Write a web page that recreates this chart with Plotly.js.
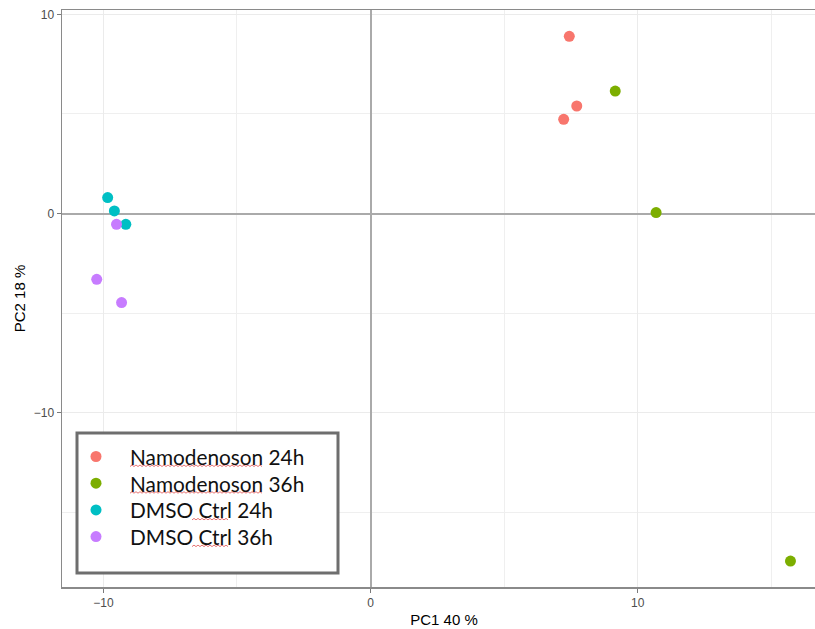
<!DOCTYPE html>
<html>
<head>
<meta charset="utf-8">
<script src="https://cdn.plot.ly/plotly-3.0.1.min.js"></script>
<style>
html,body{margin:0;padding:0;overflow:hidden;background:#fff;}
#chart{width:826px;height:629px;}
</style>
</head>
<body>
<div id="chart"></div>
<script>
// Data
const groups = ["Namodenoson 24h", "Namodenoson 36h", "DMSO Ctrl 24h", "DMSO Ctrl 36h"];
const colors = ["#F8766D", "#7CAE00", "#00BFC4", "#C77CFF"];
const pc1_nam24 = [7.44, 7.72, 7.23];
const pc2_nam24 = [8.90, 5.40, 4.73];
const pc1_nam36 = [9.16, 10.69, 15.72];
const pc2_nam36 = [6.15, 0.05, -17.45];
const pc1_dmso24 = [-9.84, -9.59, -9.16];
const pc2_dmso24 = [0.80, 0.13, -0.54];
const pc1_dmso36 = [-9.51, -10.25, -9.32];
const pc2_dmso36 = [-0.54, -3.30, -4.47];
const xTicks = [-10, 0, 10];
const yTicks = [-10, 0, 10];
const xTitle = "PC1 40 %";
const yTitle = "PC2 18 %";

const xs = [pc1_nam24, pc1_nam36, pc1_dmso24, pc1_dmso36];
const ys = [pc2_nam24, pc2_nam36, pc2_dmso24, pc2_dmso36];

const traces = groups.map((g, i) => ({
  type: "scatter",
  mode: "markers",
  name: g,
  x: xs[i],
  y: ys[i],
  marker: {color: colors[i], size: 11, line: {width: 0}},
  cliponaxis: false,
  showlegend: false
}));

// ---- legend box (drawn like the pasted legend in the reference) ----
const W = 826, H = 629, ML = 62, MR = 0, MT = 10, MB = 42;
const PW = W - ML - MR, PH = H - MT - MB;
const px2x = p => (p - ML) / PW;
const py2y = p => (H - MB - p) / PH;

const shapes = [];
const annotations = [];
shapes.push({
  type: "rect", xref: "paper", yref: "paper",
  x0: px2x(77), x1: px2x(338), y0: py2y(573), y1: py2y(433),
  fillcolor: "#ffffff", line: {color: "#6e6e6e", width: 3}, layer: "above"
});
const rowY0 = 456.5, rowStep = 26.7;
// spell-check squiggle spans [start, end] in px, per row
const squiggles = [[130, 262], [130, 262], [192, 228], [192, 228]];
function zigzag(x0, x1) {
  let d = "M0,0";
  let k = 0;
  for (let x = 2; x <= x1 - x0; x += 2) { k++; d += " L" + x + "," + (k % 2 ? 1.5 : 0); }
  return d;
}
groups.forEach((g, i) => {
  const cy = rowY0 + i * rowStep;
  shapes.push({
    type: "circle", xref: "paper", yref: "paper",
    xsizemode: "pixel", ysizemode: "pixel",
    xanchor: px2x(96), yanchor: py2y(cy),
    x0: -5.5, x1: 5.5, y0: -5.5, y1: 5.5,
    fillcolor: colors[i], line: {width: 0}, layer: "above"
  });
  annotations.push({
    xref: "paper", yref: "paper", x: px2x(128), y: py2y(cy),
    xanchor: "left", yanchor: "middle", showarrow: false,
    text: g, font: {family: "Lato, Open Sans, sans-serif", size: 20.8, color: "#111"}
  });
  const s = squiggles[i];
  shapes.push({
    type: "path", xref: "paper", yref: "paper",
    xsizemode: "pixel", ysizemode: "pixel",
    xanchor: px2x(s[0]), yanchor: py2y(cy + 10),
    path: zigzag(s[0], s[1]),
    line: {color: "#e05050", width: 0.8}, layer: "above"
  });
});

const layout = {
  width: W,
  height: H,
  margin: {l: ML, r: MR, t: MT, b: MB},
  paper_bgcolor: "#ffffff",
  plot_bgcolor: "#ffffff",
  font: {family: "Liberation Sans, Arial, sans-serif", color: "#000"},
  showlegend: false,
  shapes: shapes,
  annotations: annotations,
  xaxis: {
    range: [-11.55, 17.05],
    tickvals: xTicks,
    ticktext: xTicks.map(v => v < 0 ? "\u2212" + Math.abs(v) : String(v)),
    ticks: "outside", ticklen: 4, tickwidth: 1, tickcolor: "#7a7a7a",
    tickfont: {family: "Liberation Sans, Arial, sans-serif", size: 12, color: "#4d4d4d"},
    showgrid: true, gridcolor: "#ebebeb", gridwidth: 1,
    minor: {dtick: 5, tick0: 5, showgrid: true, gridcolor: "#efefef", gridwidth: 1, ticks: ""},
    zeroline: true, zerolinecolor: "#aaaaaa", zerolinewidth: 2,
    showline: true, linecolor: "#8a8a8a", linewidth: 1.5, mirror: true,
    title: {text: xTitle, font: {family: "Liberation Sans, Arial, sans-serif", size: 15, color: "#000"}, standoff: 5}
  },
  yaxis: {
    range: [-18.75, 10.22],
    tickvals: yTicks,
    ticktext: yTicks.map(v => v < 0 ? "\u2212" + Math.abs(v) : String(v)),
    ticks: "outside", ticklen: 4, tickwidth: 1, tickcolor: "#7a7a7a",
    tickfont: {family: "Liberation Sans, Arial, sans-serif", size: 12, color: "#4d4d4d"},
    showgrid: true, gridcolor: "#ebebeb", gridwidth: 1,
    minor: {dtick: 5, tick0: 5, showgrid: true, gridcolor: "#efefef", gridwidth: 1, ticks: ""},
    zeroline: true, zerolinecolor: "#aaaaaa", zerolinewidth: 2,
    showline: true, linecolor: "#8a8a8a", linewidth: 1.5, mirror: true,
    title: {text: yTitle, font: {family: "Liberation Sans, Arial, sans-serif", size: 15, color: "#000"}, standoff: 4}
  }
};

Plotly.newPlot("chart", traces, layout, {displayModeBar: false, staticPlot: true});
</script>
</body>
</html>
